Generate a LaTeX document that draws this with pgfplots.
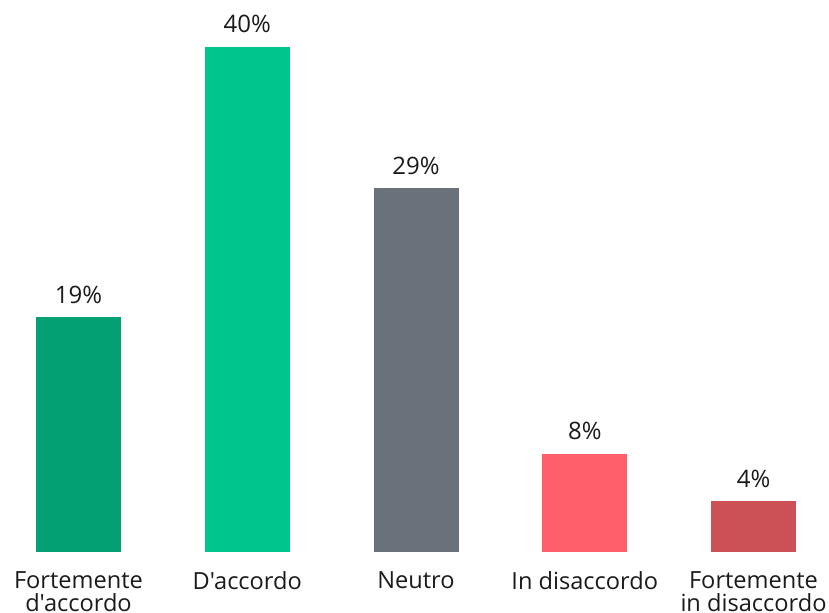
\documentclass[border=0pt]{standalone}
\usepackage{fontspec}
\setmainfont{Open Sans}[Ligatures=TeXOff]
\usepackage{pgfplots}
\pgfplotsset{compat=1.18}
\definecolor{c1}{HTML}{03A074}
\definecolor{c2}{HTML}{00C58C}
\definecolor{c3}{HTML}{6A717B}
\definecolor{c4}{HTML}{FF5F6A}
\definecolor{c5}{HTML}{CC5157}
\definecolor{txt}{HTML}{1A1A1A}
\begin{document}
\begin{tikzpicture}
\begin{axis}[
  name=ax,
  scale only axis,
  width=414.5pt, height=276pt,
  xmin=-0.4652, xmax=4.4474,
  ymin=0, ymax=43.72,
  ybar, bar width=42.5pt, bar shift=0pt,
  axis line style={draw=none},
  major tick length=0pt,
  ymajorticks=false,
  /pgf/number format/assume math mode=true,
  xtick={0,1,2,3,4},
  xticklabels={{Fortemente\\d'accordo},{D'accordo},{Neutro},{In disaccordo},{Fortemente\\in disaccordo}},
  xticklabel style={align=center, anchor=north, inner sep=0pt, yshift=-9.5pt,
    font=\fontsize{11.8}{11.6}\selectfont, text=txt},
  nodes near coords={\pgfmathprintnumber[fixed,precision=0,assume math mode=true]{\pgfplotspointmeta}\%},
  every node near coord/.append style={anchor=base, inner sep=0pt, yshift=7pt,
    font=\fontsize{12}{14}\selectfont, text=txt},
  clip=false,
]
\addplot[fill=c1, draw=none] coordinates {(0,18.6)};
\addplot[fill=c2, draw=none] coordinates {(1,40)};
\addplot[fill=c3, draw=none] coordinates {(2,28.8)};
\addplot[fill=c4, draw=none] coordinates {(3,7.8)};
\addplot[fill=c5, draw=none] coordinates {(4,4.0)};
\end{axis}
\pgfresetboundingbox
\path[use as bounding box] (ax.south west) ++(0,-30.5pt) rectangle (ax.north east);
\end{tikzpicture}
\end{document}
